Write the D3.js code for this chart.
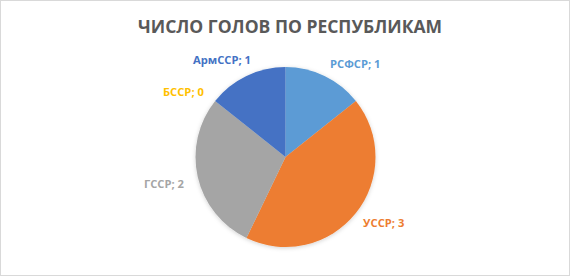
<!DOCTYPE html>
<html>
<head>
<meta charset="utf-8">
<script src="https://cdn.jsdelivr.net/npm/d3@7"></script>
<style>
  html, body { margin: 0; padding: 0; background: #fff; }
  svg { display: block; }
</style>
</head>
<body>
<svg id="chart" width="570" height="277"></svg>
<script>
// Goals scored, by Soviet republic
const republics = ["РСФСР", "УССР", "ГССР", "БССР", "АрмССР"];
const goals = [1, 3, 2, 0, 1];
const sliceColors = ["#5B9BD5", "#ED7D31", "#A5A5A5", "#FFC000", "#4472C4"];
const titleText = "ЧИСЛО ГОЛОВ ПО РЕСПУБЛИКАМ";

// Layout
const W = 570, H = 277;
const cx = 285.5, cy = 157, R = 90;
const FONT = "'Open Sans', 'DejaVu Sans', sans-serif";
const titleBox = { x: 290, y: 33, size: 17, width: 304 };
const labelStyle = { size: 10, refWidth: 58, gap: 8 };
// small per-label nudges applied after the outside placement
const labelNudge = [[2, -1], [1, 2], [-6, 1.5], [-5, 0], [8, -4.5]];

const svg = d3.select("#chart");

// chart frame
svg.append("rect")
  .attr("x", 0.5).attr("y", 0.5)
  .attr("width", W - 1).attr("height", H - 2)
  .attr("fill", "#fff")
  .attr("stroke", "#d9d9d9").attr("stroke-width", 1);

const defs = svg.append("defs");
const shadow = defs.append("filter").attr("id", "pieShadow")
  .attr("x", "-20%").attr("y", "-20%").attr("width", "140%").attr("height", "140%");
shadow.append("feDropShadow")
  .attr("dx", 0).attr("dy", 1).attr("stdDeviation", 2)
  .attr("flood-color", "#000").attr("flood-opacity", 0.18);

// title
const title = svg.append("text")
  .attr("x", titleBox.x).attr("y", titleBox.y)
  .attr("text-anchor", "middle")
  .attr("font-family", FONT)
  .attr("font-weight", 700)
  .attr("font-size", titleBox.size)
  .attr("fill", "#595959")
  .text(titleText);
title.attr("textLength", titleBox.width).attr("lengthAdjust", "spacingAndGlyphs");

// pie
const rows = republics.map((name, i) => ({ name, value: goals[i], color: sliceColors[i] }));
const pie = d3.pie().value(d => d.value).sort(null);
const arcs = pie(rows);
const arc = d3.arc().innerRadius(0).outerRadius(R);

const g = svg.append("g").attr("transform", `translate(${cx},${cy})`);
g.append("g").attr("filter", "url(#pieShadow)")
  .selectAll("path")
  .data(arcs.filter(a => a.value > 0))
  .join("path")
  .attr("d", arc)
  .attr("fill", d => d.data.color);

// data labels, placed outside each slice's mid-angle
const labels = g.selectAll("text.lbl")
  .data(arcs)
  .join("text")
  .attr("class", "lbl")
  .attr("font-family", FONT)
  .attr("font-weight", 700)
  .attr("font-size", labelStyle.size)
  .attr("fill", d => d.data.color)
  .attr("text-anchor", "middle")
  .attr("dy", "0.36em")
  .text(d => `${d.data.name}; ${d.data.value}`);

// horizontal compression common to all labels
let refNatural = null;
labels.each(function (d) {
  if (d.data.name === "АрмССР") refNatural = this.getComputedTextLength();
});
const k = refNatural ? labelStyle.refWidth / refNatural : 1;

labels.each(function (d, i) {
  const w = this.getComputedTextLength() * k;
  const h = labelStyle.size * 0.75;
  const a = (d.startAngle + d.endAngle) / 2;
  const s = Math.sin(a), c = -Math.cos(a);
  const px = (R + labelStyle.gap) * s;
  const py = (R + labelStyle.gap) * c;
  const x = px + Math.sign(s) * w / 2 + labelNudge[i][0];
  const y = py + Math.sign(c) * h / 2 + labelNudge[i][1];
  d3.select(this)
    .attr("x", x).attr("y", y)
    .attr("textLength", w).attr("lengthAdjust", "spacingAndGlyphs");
});
</script>
</body>
</html>
